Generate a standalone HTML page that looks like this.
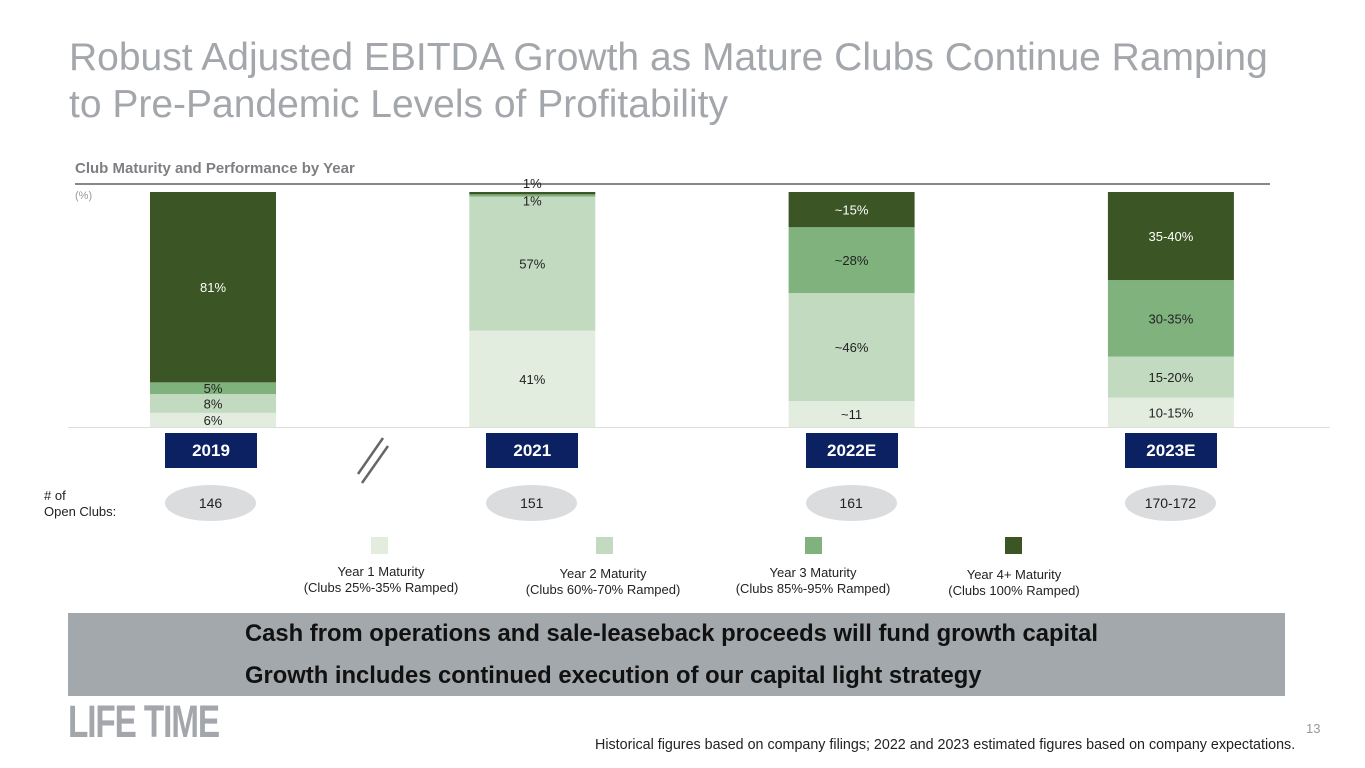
<!DOCTYPE html>
<html><head><meta charset="utf-8"><style>
body{margin:0;width:1365px;height:768px;background:#fff;font-family:"Liberation Sans",sans-serif;position:relative;overflow:hidden}
.a{position:absolute}
.title{left:69px;top:34px;font-size:39px;color:#a3a7ab;line-height:47px;white-space:nowrap}
.yr{background:#0b2162;color:#fff;font-weight:bold;font-size:17px;text-align:center;line-height:35px;height:35px;width:92px;top:433px}
.ov{background:#dadcdd;border-radius:50%;width:91px;height:36px;top:485px;text-align:center;line-height:36px;font-size:14px;color:#222}
.sq{width:17px;height:17px;top:537px}
.lg{font-size:13px;color:#222;text-align:center;width:200px;line-height:16px}
.msg{font-weight:bold;font-size:23.8px;color:#111;left:245px;white-space:nowrap}
</style></head><body>
<div class="a title">Robust Adjusted EBITDA Growth as Mature Clubs Continue Ramping<br>to Pre-Pandemic Levels of Profitability</div>
<div class="a" style="left:75px;top:160px;font-size:15px;font-weight:bold;color:#7d7f82">Club Maturity and Performance by Year</div>
<div class="a" style="left:75px;top:183px;width:1195px;height:2px;background:#888"></div>
<div class="a" style="left:75px;top:190px;font-size:11px;color:#999">(%)</div>
<svg class="a" style="left:0;top:0" width="1365" height="768" id="chart">
<line x1="68" y1="427.5" x2="1330" y2="427.5" stroke="#ddd" stroke-width="1"/>
<line x1="358" y1="474" x2="383" y2="438" stroke="#666" stroke-width="2.5"/>
<line x1="362" y1="483" x2="388" y2="446" stroke="#666" stroke-width="2.5"/>
</svg>
<script>
const categories=["2019","2021","2022E","2023E"];
const year1=[6,41,11,12.5];
const year2=[8,57,46,17.5];
const year3=[5,1,28,32.5];
const year4=[81,1,15,37.5];
const labels1=["6%","41%","~11","10-15%"];
const labels2=["8%","57%","~46%","15-20%"];
const labels3=["5%","1%","~28%","30-35%"];
const labels4=["81%","1%","~15%","35-40%"];
const clubs=["146","151","161","170-172"];
const colors=["#e2ede0","#c2dbc0","#80b27e","#3b5525"];
const svg=document.getElementById('chart');
const NS="http://www.w3.org/2000/svg";
const base=427,top0=192,bw=126;
const xPos=i=>150+i*319.3;
const yScale=v=>v*(base-top0)/100;
const series=[year1,year2,year3,year4],lbls=[labels1,labels2,labels3,labels4];
categories.forEach((c,i)=>{
  let y=base;
  series.forEach((s,k)=>{
    const h=yScale(s[i]);
    const r=document.createElementNS(NS,'rect');
    r.setAttribute('x',xPos(i));r.setAttribute('y',y-h);r.setAttribute('width',bw);r.setAttribute('height',h);r.setAttribute('fill',colors[k]);
    
    
    svg.appendChild(r);
    const t=document.createElementNS(NS,'text');
    let ty=y-h/2+5;
    let fill=k==3?'#fff':'#222';
    if(s[i]<3){ if(k==3){ty=y-h-4;fill='#222';} else {ty=y-h+11;} }
    t.setAttribute('x',xPos(i)+bw/2);t.setAttribute('y',ty);t.setAttribute('text-anchor','middle');
    t.setAttribute('font-size','13');t.setAttribute('font-family','Liberation Sans, sans-serif');
    t.setAttribute('fill',fill);
    t.textContent=lbls[k][i];
    
    
    svg.appendChild(t);
    y-=h;
  });
  const yb=document.createElement('div');
  yb.className='a yr';yb.style.left=(xPos(i)+bw/2-46+(i==0?-2:0))+'px';yb.textContent=c;
  
  
  document.body.appendChild(yb);
  const ov=document.createElement('div');
  ov.className='a ov';ov.style.left=(xPos(i)+bw/2-46+(i==0?-2:0))+'px';ov.textContent=clubs[i];
  
  
  document.body.appendChild(ov);
});
</script>
<div class="a" style="left:44px;top:488px;font-size:13px;line-height:16px;color:#222"># of<br>Open Clubs:</div>
<div class="a sq" style="left:371px;background:#e2ede0"></div>
<div class="a sq" style="left:596px;background:#c2dbc0"></div>
<div class="a sq" style="left:805px;background:#80b27e"></div>
<div class="a sq" style="left:1005px;background:#3b5525"></div>
<div class="a lg" style="left:281px;top:564px">Year 1 Maturity<br>(Clubs 25%-35% Ramped)</div>
<div class="a lg" style="left:503px;top:566px">Year 2 Maturity<br>(Clubs 60%-70% Ramped)</div>
<div class="a lg" style="left:713px;top:565px">Year 3 Maturity<br>(Clubs 85%-95% Ramped)</div>
<div class="a lg" style="left:914px;top:567px">Year 4+ Maturity<br>(Clubs 100% Ramped)</div>
<div class="a" style="left:68px;top:613px;width:1217px;height:83px;background:#a2a8ab"></div>
<div class="a msg" style="top:620px">Cash from operations and sale-leaseback proceeds will fund growth capital</div>
<div class="a msg" style="top:662px">Growth includes continued execution of our capital light strategy</div>
<div class="a" style="left:68px;top:699px;font-size:45px;line-height:46px;font-weight:bold;color:#a3a7ab;letter-spacing:-1.5px;transform:scaleX(0.74);transform-origin:left;white-space:nowrap">LIFE TIME</div>
<div class="a" style="left:1306px;top:721px;font-size:13px;color:#999">13</div>
<div class="a" style="left:595px;top:737px;font-size:14.3px;color:#222;white-space:nowrap">Historical figures based on company filings; 2022 and 2023 estimated figures based on company expectations.</div>
</body></html>
